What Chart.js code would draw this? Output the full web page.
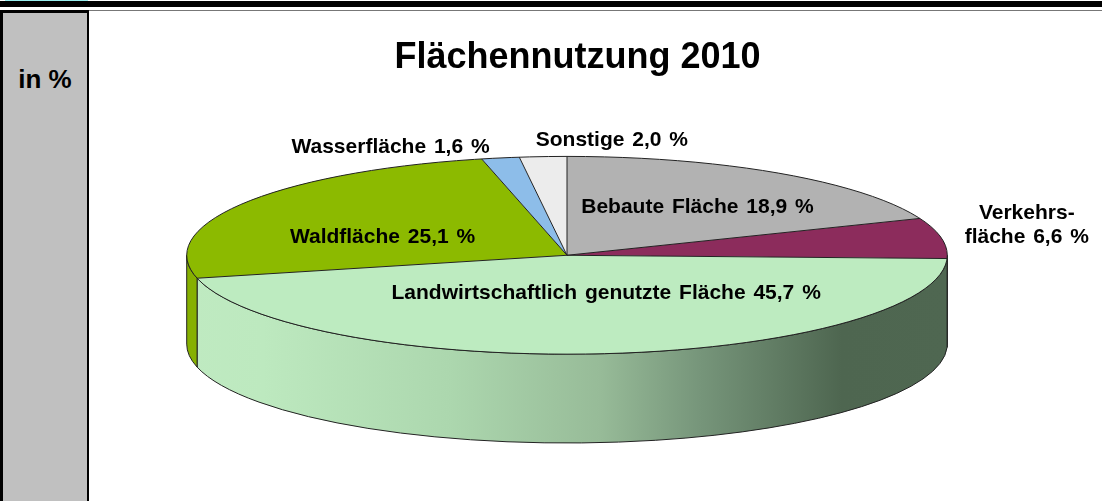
<!DOCTYPE html>
<html>
<head>
<meta charset="utf-8">
<script src="https://cdn.jsdelivr.net/npm/chart.js@4.4.1/dist/chart.umd.min.js"></script>
<style>
  body { margin: 0; width: 1102px; height: 501px; position: relative; overflow: hidden; background: #fff; font-family: Arial, "Liberation Sans", sans-serif; }
  #cyan { position: absolute; left: 5px; top: 0; width: 83px; height: 1px; background: #9ee; }
  #band { position: absolute; left: 0; top: 1px; width: 1102px; height: 6px; background: #000; }
  #side { position: absolute; left: 0; top: 10px; width: 89px; height: 491px; box-sizing: border-box; background: #c0c0c0;
          border-left: 3px solid #000; border-top: 3px solid #000; border-right: 2px solid #000; }
  #side span { position: absolute; left: 0; right: 0; top: 53px; line-height: 26px; text-align: center; font-weight: bold; font-size: 26px; color: #000; }
  #topline { position: absolute; left: 89px; top: 10px; width: 1013px; height: 1px; background: #777; }
  #wrap { position: absolute; left: 89px; top: 11px; width: 1013px; height: 490px; }
</style>
</head>
<body>
<div id="cyan"></div>
<div id="band"></div>
<div id="side"><span>in %</span></div>
<div id="topline"></div>
<div id="wrap"><canvas id="grafico" width="1013" height="490"></canvas></div>
<script>
// Flächennutzung 2010, Anteile in %
const kategorien = ['Bebaute Fläche', ['Verkehrs-', 'fläche'], 'Landwirtschaftlich genutzte Fläche', 'Waldfläche', 'Wasserfläche', 'Sonstige'];
const anteile = [18.9, 6.6, 45.7, 25.1, 1.6, 2.0];
const farben = ['#b2b2b2', '#8c2c5c', '#bdebc0', '#8cba00', '#8dbde9', '#ececec'];
const seitenFarben = [null, '#6a2046', 'verlauf', '#86b000', '#7aa9d6', '#d8d8d8'];
// Lage der Beschriftungen (Anteil von Radius x / y, ausgehend vom Mittelpunkt)
const labelPos = [[0.343, -0.49], [1.209, -0.306], [0.103, 0.383], [-0.485, -0.184], [-0.464, -1.097], [0.118, -1.163]];

const TILT = 0.26;
const DEPTH_RATIO = 0.31;
const X_SHIFT = -10.5;

function geometrie(chart) {
  const a = chart.chartArea;
  const h = a.bottom - a.top;
  const depth = h * DEPTH_RATIO;
  const ry = (h - depth) / 2;
  const rx = ry / TILT;
  return { cx: (a.left + a.right) / 2 + X_SHIFT, cy: a.top + ry, rx: rx, ry: ry, depth: depth };
}

const pie3d = {
  id: 'pie3d',
  beforeDatasetsDraw(chart) {
    const ctx = chart.ctx;
    const g = geometrie(chart);
    const arcs = chart.getDatasetMeta(0).data;

    // Seitenwand (nur vordere Hälfte sichtbar)
    const grad = ctx.createLinearGradient(g.cx - g.rx, 0, g.cx + g.rx, 0);
    grad.addColorStop(0, '#bfeac1');
    grad.addColorStop(0.1, '#bde9bf');
    grad.addColorStop(0.345, '#acd7ae');
    grad.addColorStop(0.544, '#97bb98');
    grad.addColorStop(0.676, '#76957a');
    grad.addColorStop(0.861, '#4e6650');
    grad.addColorStop(1, '#4f6751');
    arcs.forEach((arc, i) => {
      const a1 = Math.max(arc.startAngle, 0);
      const a2 = Math.min(arc.endAngle, Math.PI);
      if (a2 <= a1) return;
      ctx.beginPath();
      ctx.ellipse(g.cx, g.cy, g.rx, g.ry, 0, a1, a2);
      ctx.lineTo(g.cx + g.rx * Math.cos(a2), g.cy + g.depth + g.ry * Math.sin(a2));
      ctx.ellipse(g.cx, g.cy + g.depth, g.rx, g.ry, 0, a2, a1, true);
      ctx.closePath();
      ctx.fillStyle = seitenFarben[i] === 'verlauf' ? grad : seitenFarben[i];
      ctx.fill();
      ctx.strokeStyle = '#222';
      ctx.lineWidth = 1;
      ctx.stroke();
    });

    // Oberseite: Kreis des Diagramms zur Ellipse stauchen
    const el = arcs[0];
    const R = el.outerRadius;
    ctx.save();
    ctx.translate(g.cx, g.cy);
    ctx.scale(g.rx / R, g.ry / R);
    ctx.translate(-el.x, -el.y);
  },
  afterDatasetsDraw(chart) {
    const ctx = chart.ctx;
    ctx.restore();
    const g = geometrie(chart);
    const arcs = chart.getDatasetMeta(0).data;

    ctx.strokeStyle = '#222';
    ctx.lineWidth = 1;
    arcs.forEach(arc => {
      ctx.beginPath();
      ctx.moveTo(g.cx, g.cy);
      ctx.lineTo(g.cx + g.rx * Math.cos(arc.startAngle), g.cy + g.ry * Math.sin(arc.startAngle));
      ctx.stroke();
    });
    ctx.beginPath();
    ctx.ellipse(g.cx, g.cy, g.rx, g.ry, 0, 0, Math.PI * 2);
    ctx.stroke();

    // Beschriftungen
    ctx.save();
    ctx.fillStyle = '#000';
    ctx.font = 'bold 21px Arial, "Liberation Sans", sans-serif';
    ctx.wordSpacing = '2px';
    ctx.textAlign = 'center';
    ctx.textBaseline = 'middle';
    kategorien.forEach((k, i) => {
      const wert = anteile[i].toFixed(1).replace('.', ',') + ' %';
      const zeilen = Array.isArray(k) ? k.slice() : [k];
      zeilen[zeilen.length - 1] += ' ' + wert;
      const x = g.cx + labelPos[i][0] * g.rx;
      const y = g.cy + labelPos[i][1] * g.ry;
      const lh = 24;
      zeilen.forEach((z, j) => {
        ctx.fillText(z, x, y + (j - (zeilen.length - 1) / 2) * lh);
      });
    });
    ctx.restore();
  }
};

const ctx = document.getElementById('grafico').getContext('2d');

new Chart(ctx, {
  type: 'pie',
  data: {
    labels: kategorien,
    datasets: [{
      data: anteile,
      backgroundColor: farben,
      borderWidth: 0,
      clip: false
    }]
  },
  options: {
    responsive: false,
    animation: false,
    rotation: 0,
    layout: { padding: { left: 0, right: 36, top: 0, bottom: 58 } },
    plugins: {
      legend: { display: false },
      tooltip: { enabled: false },
      title: {
        display: true,
        text: 'Flächennutzung 2010',
        color: '#000',
        font: { family: 'Arial, "Liberation Sans", sans-serif', size: 36, weight: 'bold' },
        padding: { top: 25, bottom: 77.2 }
      }
    }
  },
  plugins: [pie3d]
});
</script>
</body>
</html>
